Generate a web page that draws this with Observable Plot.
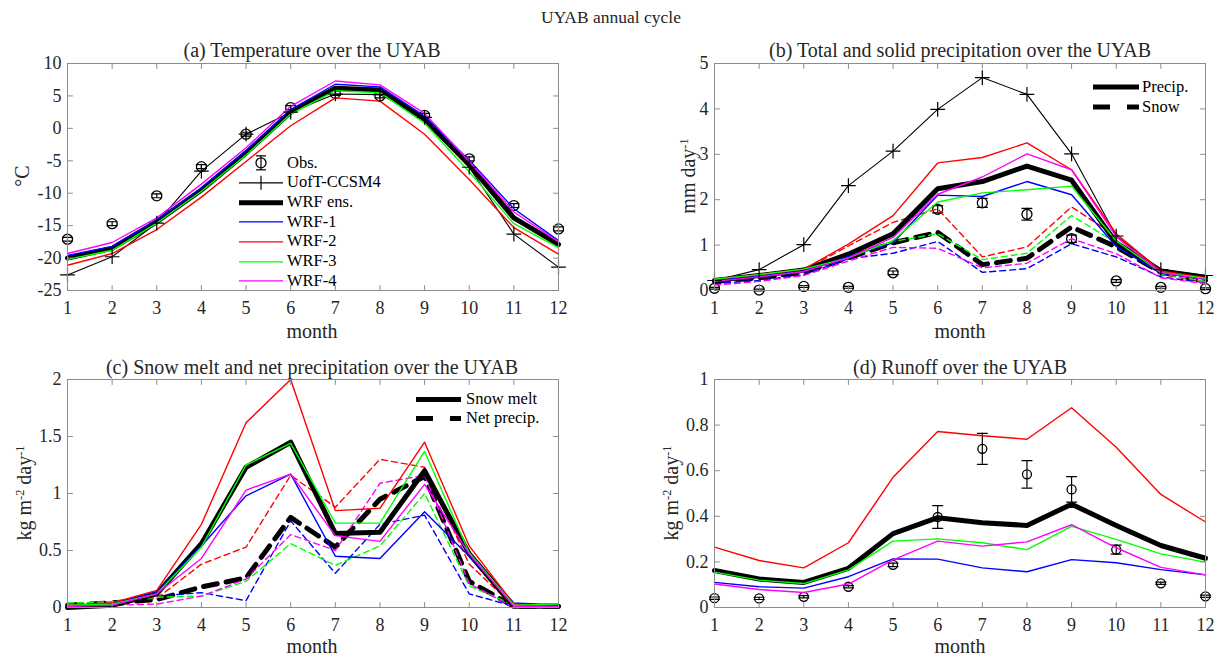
<!DOCTYPE html>
<html><head><meta charset="utf-8">
<script src="https://cdn.jsdelivr.net/npm/d3@7"></script>
<script src="https://cdn.jsdelivr.net/npm/@observablehq/plot@0.6"></script>
<style>
body{margin:0;background:#fff;}
#fig{position:relative;width:1225px;height:659px;font-family:"Liberation Serif","Times New Roman",serif;color:#262626;overflow:hidden;background:#fff}
.abs{position:absolute;white-space:nowrap;line-height:1;font-family:"Liberation Serif","Times New Roman",serif}
.ttl{font-size:20px;transform:translate(-50%,-50%)}
.ylab{font-size:20px;transform:translate(-50%,-50%) rotate(-90deg)}
.ylab sup{font-size:0.62em;vertical-align:0.55em}
.leg{font-size:16.5px;color:#000}
.leg span{font-family:"Liberation Serif","Times New Roman",serif}
.leg .row{display:flex;align-items:center}
.leg svg{display:block;overflow:visible}
.pbox{position:absolute}
</style></head><body><div id="fig"></div>
<script>
const months = [1,2,3,4,5,6,7,8,9,10,11,12];

// (a) Temperature (°C)
const tempObs    = [-17.1, -14.7, -10.4, -5.9, -0.9, 3.2, 5.4, 5.0, 2.0, -4.7, -11.9, -15.5];
const tempObsErr = [0.3, 0.3, 0.3, 0.3, 0.3, 0.3, 0.3, 0.3, 0.3, 0.3, 0.3, 0.3];
const tempCCSM   = [-22.6, -19.8, -14.6, -6.6, -0.9, 2.5, 5.3, 5.2, 1.7, -6.0, -16.3, -21.4];
const tempEns    = [-20.0, -18.5, -14.4, -9.5, -3.8, 2.5, 6.2, 5.9, 1.4, -5.6, -13.8, -17.9];
const tempW1     = [-19.6, -18.2, -14.1, -9.2, -3.4, 2.9, 6.8, 6.4, 1.9, -4.9, -12.4, -17.3];
const tempW2     = [-21.1, -19.3, -15.6, -10.6, -5.1, 0.4, 4.7, 4.2, -0.9, -7.9, -15.3, -19.4];
const tempW3     = [-20.2, -18.8, -14.6, -9.7, -4.1, 2.2, 5.8, 5.5, 0.8, -6.7, -14.7, -18.4];
const tempW4     = [-19.3, -17.6, -13.8, -8.6, -3.0, 3.4, 7.3, 6.7, 2.3, -5.1, -12.9, -17.5];

// (b) Total (solid lines) and solid (dashed) precipitation (mm/day)
const precObs    = [0.05, 0.01, 0.09, 0.07, 0.39, 1.79, 1.93, 1.68, 1.14, 0.21, 0.07, 0.04];
const precObsErr = [0.02, 0.02, 0.02, 0.02, 0.04, 0.08, 0.10, 0.13, 0.08, 0.03, 0.02, 0.02];
const precCCSM   = [0.22, 0.46, 1.01, 2.31, 3.07, 3.99, 4.69, 4.32, 3.01, 1.20, 0.46, 0.33];
const precEns    = [0.22, 0.33, 0.45, 0.80, 1.25, 2.24, 2.40, 2.74, 2.43, 1.05, 0.43, 0.29];
const precW1     = [0.22, 0.32, 0.43, 0.75, 1.05, 2.10, 2.07, 2.40, 2.11, 0.97, 0.38, 0.26];
const precW2     = [0.25, 0.35, 0.47, 1.02, 1.65, 2.81, 2.93, 3.25, 2.66, 1.25, 0.43, 0.28];
const precW3     = [0.25, 0.35, 0.47, 0.72, 1.10, 1.95, 2.15, 2.22, 2.30, 1.09, 0.40, 0.27];
const precW4     = [0.20, 0.30, 0.42, 0.72, 1.17, 2.12, 2.50, 3.01, 2.66, 1.18, 0.40, 0.24];
const snowEns    = [0.20, 0.28, 0.40, 0.72, 1.05, 1.28, 0.57, 0.71, 1.40, 0.96, 0.40, 0.22];
const snowW1     = [0.15, 0.22, 0.35, 0.70, 0.82, 1.08, 0.40, 0.48, 1.03, 0.74, 0.30, 0.17];
const snowW2     = [0.20, 0.30, 0.45, 0.98, 1.50, 1.80, 0.74, 0.96, 1.84, 1.20, 0.35, 0.20];
const snowW3     = [0.22, 0.30, 0.42, 0.75, 1.08, 1.25, 0.68, 0.82, 1.65, 1.05, 0.37, 0.20];
const snowW4     = [0.12, 0.20, 0.33, 0.65, 0.95, 0.93, 0.50, 0.60, 1.14, 0.81, 0.28, 0.15];

// (c) Snow melt (solid) and net precipitation (dashed) (kg m-2 day-1)
const meltEns = [0.00, 0.02, 0.12, 0.56, 1.23, 1.45, 0.65, 0.66, 1.20, 0.47, 0.01, 0.01];
const meltW1  = [0.01, 0.03, 0.14, 0.54, 0.98, 1.17, 0.45, 0.43, 0.84, 0.45, 0.04, 0.02];
const meltW2  = [0.02, 0.04, 0.15, 0.73, 1.62, 2.00, 0.85, 0.87, 1.45, 0.54, 0.03, 0.01];
const meltW3  = [0.02, 0.03, 0.12, 0.53, 1.25, 1.44, 0.74, 0.74, 1.37, 0.48, 0.02, 0.03];
const meltW4  = [0.01, 0.02, 0.12, 0.43, 1.03, 1.17, 0.63, 0.58, 1.08, 0.47, 0.01, 0.01];
const netEns  = [0.02, 0.04, 0.07, 0.18, 0.26, 0.79, 0.53, 0.95, 1.15, 0.23, 0.01, 0.01];
const netW1   = [0.02, 0.04, 0.10, 0.13, 0.06, 0.76, 0.30, 0.73, 0.81, 0.12, 0.01, 0.01];
const netW2   = [0.03, 0.05, 0.08, 0.38, 0.53, 1.16, 0.88, 1.30, 1.23, 0.38, 0.01, 0.01];
const netW3   = [0.04, 0.05, 0.09, 0.10, 0.23, 0.56, 0.37, 0.54, 1.00, 0.19, 0.02, 0.03];
const netW4   = [0.01, 0.02, 0.03, 0.10, 0.25, 0.64, 0.50, 1.09, 1.16, 0.21, 0.00, 0.01];

// (d) Runoff (kg m-2 day-1)
const runObs    = [0.041, 0.040, 0.047, 0.091, 0.187, 0.397, 0.696, 0.584, 0.518, 0.254, 0.106, 0.049];
const runObsErr = [0.005, 0.005, 0.005, 0.005, 0.008, 0.050, 0.068, 0.060, 0.056, 0.020, 0.005, 0.005];
const runEns    = [0.162, 0.125, 0.110, 0.172, 0.324, 0.394, 0.372, 0.360, 0.453, 0.360, 0.272, 0.216];
const runW1     = [0.110, 0.091, 0.085, 0.135, 0.213, 0.212, 0.174, 0.157, 0.210, 0.196, 0.166, 0.143];
const runW2     = [0.265, 0.206, 0.174, 0.284, 0.571, 0.772, 0.753, 0.738, 0.876, 0.703, 0.496, 0.375];
const runW3     = [0.155, 0.120, 0.105, 0.165, 0.291, 0.301, 0.284, 0.254, 0.356, 0.299, 0.235, 0.199];
const runW4     = [0.103, 0.079, 0.066, 0.103, 0.209, 0.291, 0.269, 0.288, 0.363, 0.262, 0.176, 0.143];

// tick values
const tempTicks = [-25, -20, -15, -10, -5, 0, 5, 10];
const precTicks = [0, 1, 2, 3, 4, 5];
const meltTicks = [0, 0.5, 1, 1.5, 2];
const runTicks  = [0, 0.2, 0.4, 0.6, 0.8, 1];

// styles
const COL = {ens: "#000000", w1: "#0000ff", w2: "#ff0000", w3: "#00ff00", w4: "#ff00ff"};
const AX = "#8c8c8c";
const THICK = 5, THIN = 1.4;
const THIN_DASH = "6,4", THICK_DASH = "14,9";

const rows = arr => months.map((m, i) => ({m, v: arr[i]}));
const obsRows = (v, e) => months.map((m, i) => ({m, v: v[i], e: e[i]}));
const tickShape = {draw(c, l) { c.moveTo(0, 0); c.lineTo(0, -l); }};

function set(ens, w1, w2, w3, w4, dash) {
  return [
    {values: ens, color: COL.ens, width: THICK, dash: dash ? THICK_DASH : null},
    {values: w1, color: COL.w1, width: THIN, dash: dash ? THIN_DASH : null},
    {values: w2, color: COL.w2, width: THIN, dash: dash ? THIN_DASH : null},
    {values: w3, color: COL.w3, width: THIN, dash: dash ? THIN_DASH : null},
    {values: w4, color: COL.w4, width: THIN, dash: dash ? THIN_DASH : null}
  ];
}

function panel(o) {
  const [y0, y1] = o.yDomain;
  const marks = [];
  if (o.obs) {
    const od = obsRows(o.obs, o.obsErr);
    marks.push(
      Plot.ruleX(od, {x: "m", y1: d => d.v - d.e, y2: d => d.v + d.e, stroke: "#000", strokeWidth: 1.2}),
      Plot.vector(od, {x: "m", y: d => d.v + d.e, rotate: 90, anchor: "middle", length: 10, shape: tickShape, stroke: "#000", strokeWidth: 1.2}),
      Plot.vector(od, {x: "m", y: d => d.v - d.e, rotate: 90, anchor: "middle", length: 10, shape: tickShape, stroke: "#000", strokeWidth: 1.2}),
      Plot.dot(od, {x: "m", y: "v", r: o.obsR, stroke: "#000", strokeWidth: 1.3, fill: "none"})
    );
  }
  if (o.ccsm) marks.push(Plot.line(rows(o.ccsm), {x: "m", y: "v", stroke: "#000", strokeWidth: 1.1}));
  for (const s of o.series) {
    marks.push(Plot.line(rows(s.values), {x: "m", y: "v", stroke: s.color, strokeWidth: s.width, strokeDasharray: s.dash}));
  }
  if (o.ccsm) marks.push(Plot.dot(rows(o.ccsm), {x: "m", y: "v", symbol: "plus", r: 4.8, stroke: "#000", strokeWidth: 1.2}));
  const tk = {length: 5, anchor: "start", shape: tickShape, stroke: AX, strokeWidth: 1};
  marks.push(
    Plot.frame({stroke: AX, strokeWidth: 1}),
    Plot.vector(months, {x: d => d, y: () => y0, rotate: 0, ...tk}),
    Plot.vector(months, {x: d => d, y: () => y1, rotate: 180, ...tk}),
    Plot.vector(o.yTicks, {x: () => 1, y: d => d, rotate: 90, ...tk}),
    Plot.vector(o.yTicks, {x: () => 12, y: d => d, rotate: -90, ...tk}),
    Plot.axisX(months, {tickSize: 0, tickPadding: 11, label: null, tickFormat: d => String(d), fill: "#262626"}),
    Plot.axisY(o.yTicks, {tickSize: 0, tickPadding: 6, label: null, tickFormat: d => String(d), fill: "#262626"})
  );
  const svg = Plot.plot({
    width: o.width, height: o.height,
    marginLeft: o.mL, marginRight: o.mR, marginTop: o.mT, marginBottom: o.mB,
    x: {domain: [1, 12]},
    y: {domain: o.yDomain},
    style: {fontFamily: "Liberation Serif, Times New Roman, serif", fontSize: "18px", color: "#262626", background: "transparent", overflow: "visible"},
    marks
  });
  const box = document.createElement("div");
  box.className = "pbox";
  box.style.left = o.left + "px";
  box.style.top = o.top + "px";
  box.appendChild(svg);
  fig.appendChild(box);
}

const fig = document.getElementById("fig");

panel({left: 0, top: 40, width: 612, height: 290, mL: 67, mR: 54, mT: 23, mB: 40,
  yDomain: [-25, 10], yTicks: tempTicks, obs: tempObs, obsErr: tempObsErr, obsR: 5, ccsm: tempCCSM,
  series: set(tempEns, tempW1, tempW2, tempW3, tempW4, false)});

panel({left: 612, top: 40, width: 613, height: 290, mL: 102, mR: 20, mT: 23, mB: 40,
  yDomain: [0, 5], yTicks: precTicks, obs: precObs, obsErr: precObsErr, obsR: 5, ccsm: precCCSM,
  series: [...set(snowEns, snowW1, snowW2, snowW3, snowW4, true), ...set(precEns, precW1, precW2, precW3, precW4, false)]});

panel({left: 0, top: 355, width: 612, height: 290, mL: 67, mR: 54, mT: 24, mB: 38,
  yDomain: [0, 2], yTicks: meltTicks,
  series: [...set(netEns, netW1, netW2, netW3, netW4, true), ...set(meltEns, meltW1, meltW2, meltW3, meltW4, false)]});

panel({left: 612, top: 355, width: 613, height: 290, mL: 102, mR: 20, mT: 24, mB: 38,
  yDomain: [0, 1], yTicks: runTicks, obs: runObs, obsErr: runObsErr, obsR: 4.5,
  series: set(runEns, runW1, runW2, runW3, runW4, false)});

// texts
function text(cls, html, cx, cy, extra) {
  const d = document.createElement("div");
  d.className = "abs " + cls;
  d.style.left = cx + "px";
  d.style.top = cy + "px";
  if (extra) Object.assign(d.style, extra);
  d.innerHTML = html;
  fig.appendChild(d);
}
text("ttl", "UYAB annual cycle", 611, 18, {fontSize: "17.5px"});
text("ttl", "(a) Temperature over the UYAB", 312, 50);
text("ttl", "(b) Total and solid precipitation over the UYAB", 960, 50);
text("ttl", "(c) Snow melt and net precipitation over the UYAB", 312, 367);
text("ttl", "(d) Runoff over the UYAB", 960, 367);
text("ttl", "month", 312, 331);
text("ttl", "month", 960, 331);
text("ttl", "month", 312, 646);
text("ttl", "month", 960, 646);
text("ylab", "°C", 22, 176);
text("ylab", "mm day<sup>-1</sup>", 688, 176);
text("ylab", "kg m<sup>-2</sup> day<sup>-1</sup>", 24, 493);
text("ylab", "kg m<sup>-2</sup> day<sup>-1</sup>", 671, 493);

// legends
function swatch(kind, w, h) {
  const m = h / 2, c = w / 2;
  const L = (stroke, sw, dash) => `<line x1="0" x2="${w}" y1="${m}" y2="${m}" stroke="${stroke}" stroke-width="${sw}"${dash ? ` stroke-dasharray="${dash}"` : ""}/>`;
  let s = "";
  if (kind.type === "obs") {
    s = `<line x1="${c}" x2="${c}" y1="${m-7}" y2="${m+7}" stroke="#000" stroke-width="1.2"/>` +
        `<line x1="${c-5}" x2="${c+5}" y1="${m-7}" y2="${m-7}" stroke="#000" stroke-width="1.2"/>` +
        `<line x1="${c-5}" x2="${c+5}" y1="${m+7}" y2="${m+7}" stroke="#000" stroke-width="1.2"/>` +
        `<circle cx="${c}" cy="${m}" r="5" fill="none" stroke="#000" stroke-width="1.3"/>`;
  } else if (kind.type === "ccsm") {
    s = L("#000", 1.1) + `<line x1="${c}" x2="${c}" y1="${m-7}" y2="${m+7}" stroke="#000" stroke-width="1.2"/>`;
  } else {
    s = L(kind.color, kind.width, kind.dash);
  }
  return `<svg width="${w}" height="${h}">${s}</svg>`;
}
function legend(left, firstCy, rowH, lineW, gap, items) {
  const d = document.createElement("div");
  d.className = "abs leg";
  d.style.left = left + "px";
  d.style.top = (firstCy - rowH / 2) + "px";
  d.innerHTML = items.map(it => `<div class="row" style="height:${rowH}px">${swatch(it, lineW, rowH)}<span style="margin-left:${gap}px">${it.label}</span></div>`).join("");
  fig.appendChild(d);
}
legend(239, 163, 19.7, 44, 4, [
  {label: "Obs.", type: "obs"},
  {label: "UofT-CCSM4", type: "ccsm"},
  {label: "WRF ens.", color: COL.ens, width: THICK},
  {label: "WRF-1", color: COL.w1, width: THIN},
  {label: "WRF-2", color: COL.w2, width: THIN},
  {label: "WRF-3", color: COL.w3, width: THIN},
  {label: "WRF-4", color: COL.w4, width: THIN}
]);
legend(1093, 87, 20, 46, 3, [
  {label: "Precip.", color: "#000", width: THICK},
  {label: "Snow", color: "#000", width: THICK, dash: "17,17"}
]);
legend(416, 399, 19, 45, 5, [
  {label: "Snow melt", color: "#000", width: THICK},
  {label: "Net precip.", color: "#000", width: THICK, dash: "17,17"}
]);
</script></body></html>
